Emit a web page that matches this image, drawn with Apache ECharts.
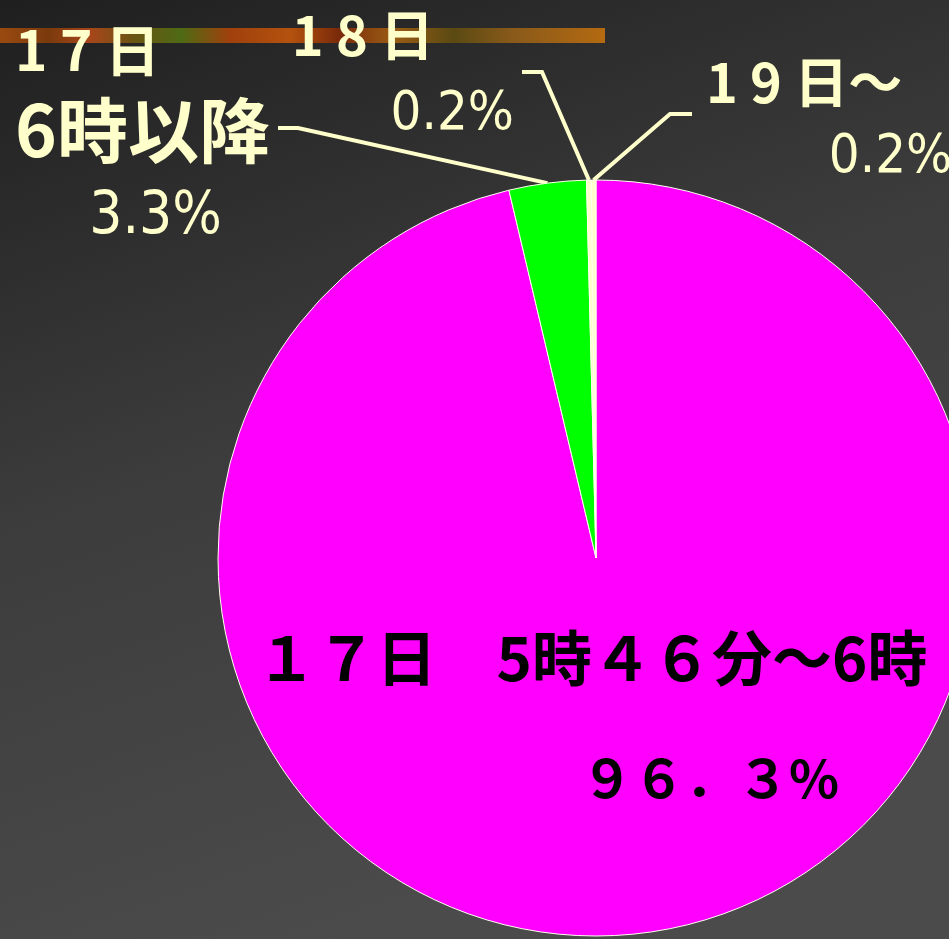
<!DOCTYPE html>
<html>
<head>
<meta charset="utf-8">
<script src="https://cdn.jsdelivr.net/npm/echarts@6/dist/echarts.min.js"></script>
<style>
  html, body { margin: 0; padding: 0; }
  #chart { width: 949px; height: 939px; }
</style>
</head>
<body>
<div id="chart"></div>
<script>
// 値（%）
const names = ["17日 5時46分～6時", "17日 6時以降", "18日", "19日～"];
const values = [96.3, 3.3, 0.2, 0.2];
const colors = ["#ff00ff", "#00ff00", "#ffffcc", "#ffffcc"];

// ラベルの位置（ラベル・引き出し線のみ）
const labelSpots = [
  { x: 592, y: 718, align: "center" },
  { x: 270, y: 138, align: "right", bend: [298, 128], lineY: 128 },
  { x: 514, y: 75, align: "right", bend: [542, 72], lineY: 72 },
  { x: 706, y: 120, align: "left", bend: [670, 114], lineY: 114 },
];

const cream = "#ffffcc";
const jp = "'Noto Sans CJK JP', sans-serif";
const narrow = "'Liberation Sans Narrow', 'DejaVu Sans Condensed', Roboto, sans-serif";

const chart = echarts.init(document.getElementById("chart"));

const data = values.map((v, i) => ({ name: names[i], value: v, itemStyle: { color: colors[i] } }));

data[0].label = {
  position: "inside",
  formatter: "{a|１７日　5時４６分～6時}\n{b|９６．３%}",
  rich: {
    a: { fontFamily: jp, fontWeight: "bold", fontSize: 60, color: "#000", lineHeight: 120 },
    b: { fontFamily: jp, fontWeight: "bold", fontSize: 52, color: "#000", lineHeight: 120, padding: [0, 0, 0, 236] },
  },
};
data[0].labelLine = { show: false };

data[1].label = {
  formatter: "{a|1 7 日}\n{b|6時以降}\n{c|3.3%}",
  rich: {
    a: { fontFamily: jp, fontWeight: "bold", fontSize: 55, color: cream, lineHeight: 80, align: "left" },
    b: { fontFamily: jp, fontWeight: "bold", fontSize: 71, color: cream, lineHeight: 80, align: "left" },
    c: { fontFamily: narrow, fontSize: 58, color: cream, lineHeight: 96, align: "center", padding: [0, 0, 0, 26] },
  },
};
data[2].label = {
  formatter: "{a|1 8 日}\n{c|0.2%}",
  rich: {
    a: { fontFamily: jp, fontWeight: "bold", fontSize: 54, color: cream, lineHeight: 80, align: "left", padding: [0, 80, 0, 0] },
    c: { fontFamily: narrow, fontSize: 54, color: cream, lineHeight: 80, align: "right" },
  },
};
data[3].label = {
  formatter: "{a|1 9 日～}\n{c|0.2%}",
  rich: {
    a: { fontFamily: jp, fontWeight: "bold", fontSize: 54, color: cream, lineHeight: 76, align: "left", padding: [0, 50, 0, 0] },
    c: { fontFamily: narrow, fontSize: 54, color: cream, lineHeight: 76, align: "right" },
  },
};

const option = {
  backgroundColor: new echarts.graphic.LinearGradient(0, 0, 0.35, 1, [
    { offset: 0, color: "#1f1f1f" },
    { offset: 0.5, color: "#3c3c3c" },
    { offset: 1, color: "#4b4b4b" },
  ]),
  graphic: [
    {
      type: "rect",
      shape: { x: 0, y: 28, width: 605, height: 15 },
      style: {
        fill: new echarts.graphic.LinearGradient(0, 0, 1, 0, [
          { offset: 0, color: "#9a4a10" },
          { offset: 0.08, color: "#7a3a0c" },
          { offset: 0.15, color: "#a8461a" },
          { offset: 0.22, color: "#6b5414" },
          { offset: 0.3, color: "#4e6a14" },
          { offset: 0.38, color: "#a0400c" },
          { offset: 0.48, color: "#b4520e" },
          { offset: 0.56, color: "#7a2a0a" },
          { offset: 0.65, color: "#9a5c14" },
          { offset: 0.75, color: "#5a4a12" },
          { offset: 0.85, color: "#8a5a1a" },
          { offset: 1, color: "#b46a10" },
        ]),
      },
      z: 0,
    },
  ],
  series: [
    {
      type: "pie",
      center: [596, 558],
      radius: 378,
      startAngle: 90,
      clockwise: true,
      avoidLabelOverlap: false,
      animation: false,
      itemStyle: { borderColor: "#ffffee", borderWidth: 1 },
      label: { show: true, position: "outside" },
      labelLine: { show: true, lineStyle: { color: cream, width: 4 } },
      labelLayout: function (params) {
        const spot = labelSpots[params.dataIndex];
        const out = { x: spot.x, y: spot.y, align: spot.align, verticalAlign: "middle" };
        if (spot.bend && params.labelLinePoints) {
          const start = params.labelLinePoints[0];
          const endX = spot.align === "right" ? spot.x + 8 : spot.x - 14;
          out.labelLinePoints = [start, spot.bend, [endX, spot.lineY]];
        }
        return out;
      },
      data: data,
    },
  ],
};

chart.setOption(option);
</script>
</body>
</html>
